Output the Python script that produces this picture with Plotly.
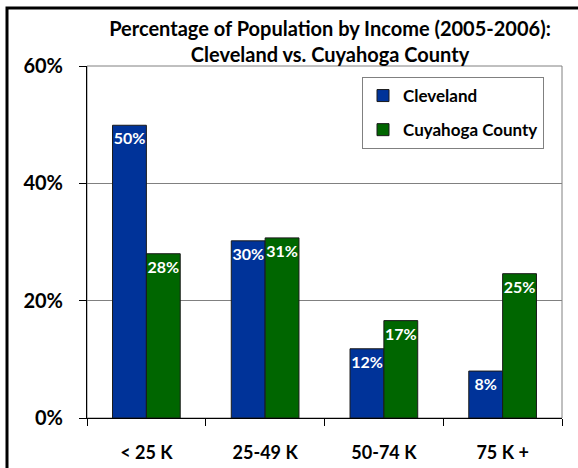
"""Income distribution bar chart: Cleveland vs. Cuyahoga County"""
import plotly.graph_objects as go

categories = ["< 25 K", "25-49 K", "50-74 K", "75 K +"]
cleveland = [0.499, 0.302, 0.118, 0.080]
cuyahoga = [0.280, 0.307, 0.166, 0.246]

FONT = "Lato"
BLUE = "#003399"
GREEN = "#006600"


def bar_trace(values, name, color, group):
    return go.Bar(
        x=categories,
        y=values,
        name=name,
        legendgroup=group,
        marker_color=color,
        marker_line=dict(color="#1a1a1a", width=1),
        texttemplate="%{y:.0%}",
        textposition="inside",
        insidetextanchor="end",
        textangle=0,
        textfont=dict(color="white", size=16, family=FONT, weight="bold"),
    )


data = [
    bar_trace(cleveland, "Cleveland", BLUE, "a"),
    bar_trace(cuyahoga, "Cuyahoga County", GREEN, "b"),
]

layout = go.Layout(
    width=578,
    height=468,
    paper_bgcolor="white",
    plot_bgcolor="white",
    font=dict(family=FONT, color="black", weight="bold"),
    title=dict(
        text="Percentage of Population by Income (2005-2006):<br>Cleveland vs. Cuyahoga County",
        x=330 / 578,
        xanchor="center",
        y=0.924,
        yanchor="top",
        font=dict(size=20, family=FONT, weight="bold"),
    ),
    barmode="group",
    bargap=0.43,
    bargroupgap=0,
    uniformtext=dict(minsize=16, mode="show"),
    margin=dict(l=87, r=16, t=66, b=50, autoexpand=False),
    xaxis=dict(
        showline=True,
        linecolor="black",
        linewidth=1,
        ticks="outside",
        tickson="boundaries",
        ticklen=7,
        tickcolor="black",
        tickfont=dict(size=18, family=FONT, weight="bold"),
        ticklabelstandoff=18,
        showgrid=False,
        automargin=False,
    ),
    yaxis=dict(
        range=[0, 0.6],
        tickvals=[0, 0.2, 0.4, 0.6],
        tickformat=".0%",
        showline=True,
        linecolor="black",
        linewidth=1,
        ticks="outside",
        ticklen=7,
        tickcolor="black",
        tickfont=dict(size=20, family=FONT, weight="bold"),
        ticklabelstandoff=12,
        showgrid=True,
        gridcolor="#808080",
        gridwidth=1,
        zeroline=False,
        automargin=False,
    ),
    showlegend=True,
    legend=dict(
        x=(362 - 87) / 475,
        y=(418 - 77) / 352,
        xanchor="left",
        yanchor="top",
        bgcolor="white",
        bordercolor="#808080",
        borderwidth=1,
        tracegroupgap=9,
        font=dict(size=17, family=FONT, weight="bold"),
        entrywidth=160,
    ),
    shapes=[
        dict(
            type="rect",
            xref="paper",
            yref="paper",
            x0=0,
            x1=1,
            y0=0,
            y1=1,
            line=dict(color="#808080", width=1),
            layer="below",
        ),
        dict(
            type="rect",
            xref="paper",
            yref="paper",
            x0=(7 - 87) / 475,
            x1=(590 - 87) / 475,
            y0=(418 - 480) / 352,
            y1=(418 - 8) / 352,
            line=dict(color="black", width=3),
        ),
    ],
)

fig = go.Figure(data, layout)
fig.write_html(
    "out.html",
    config={"displayModeBar": False},
    post_script="document.body.style.margin='0';document.body.style.overflow='hidden';",
)
